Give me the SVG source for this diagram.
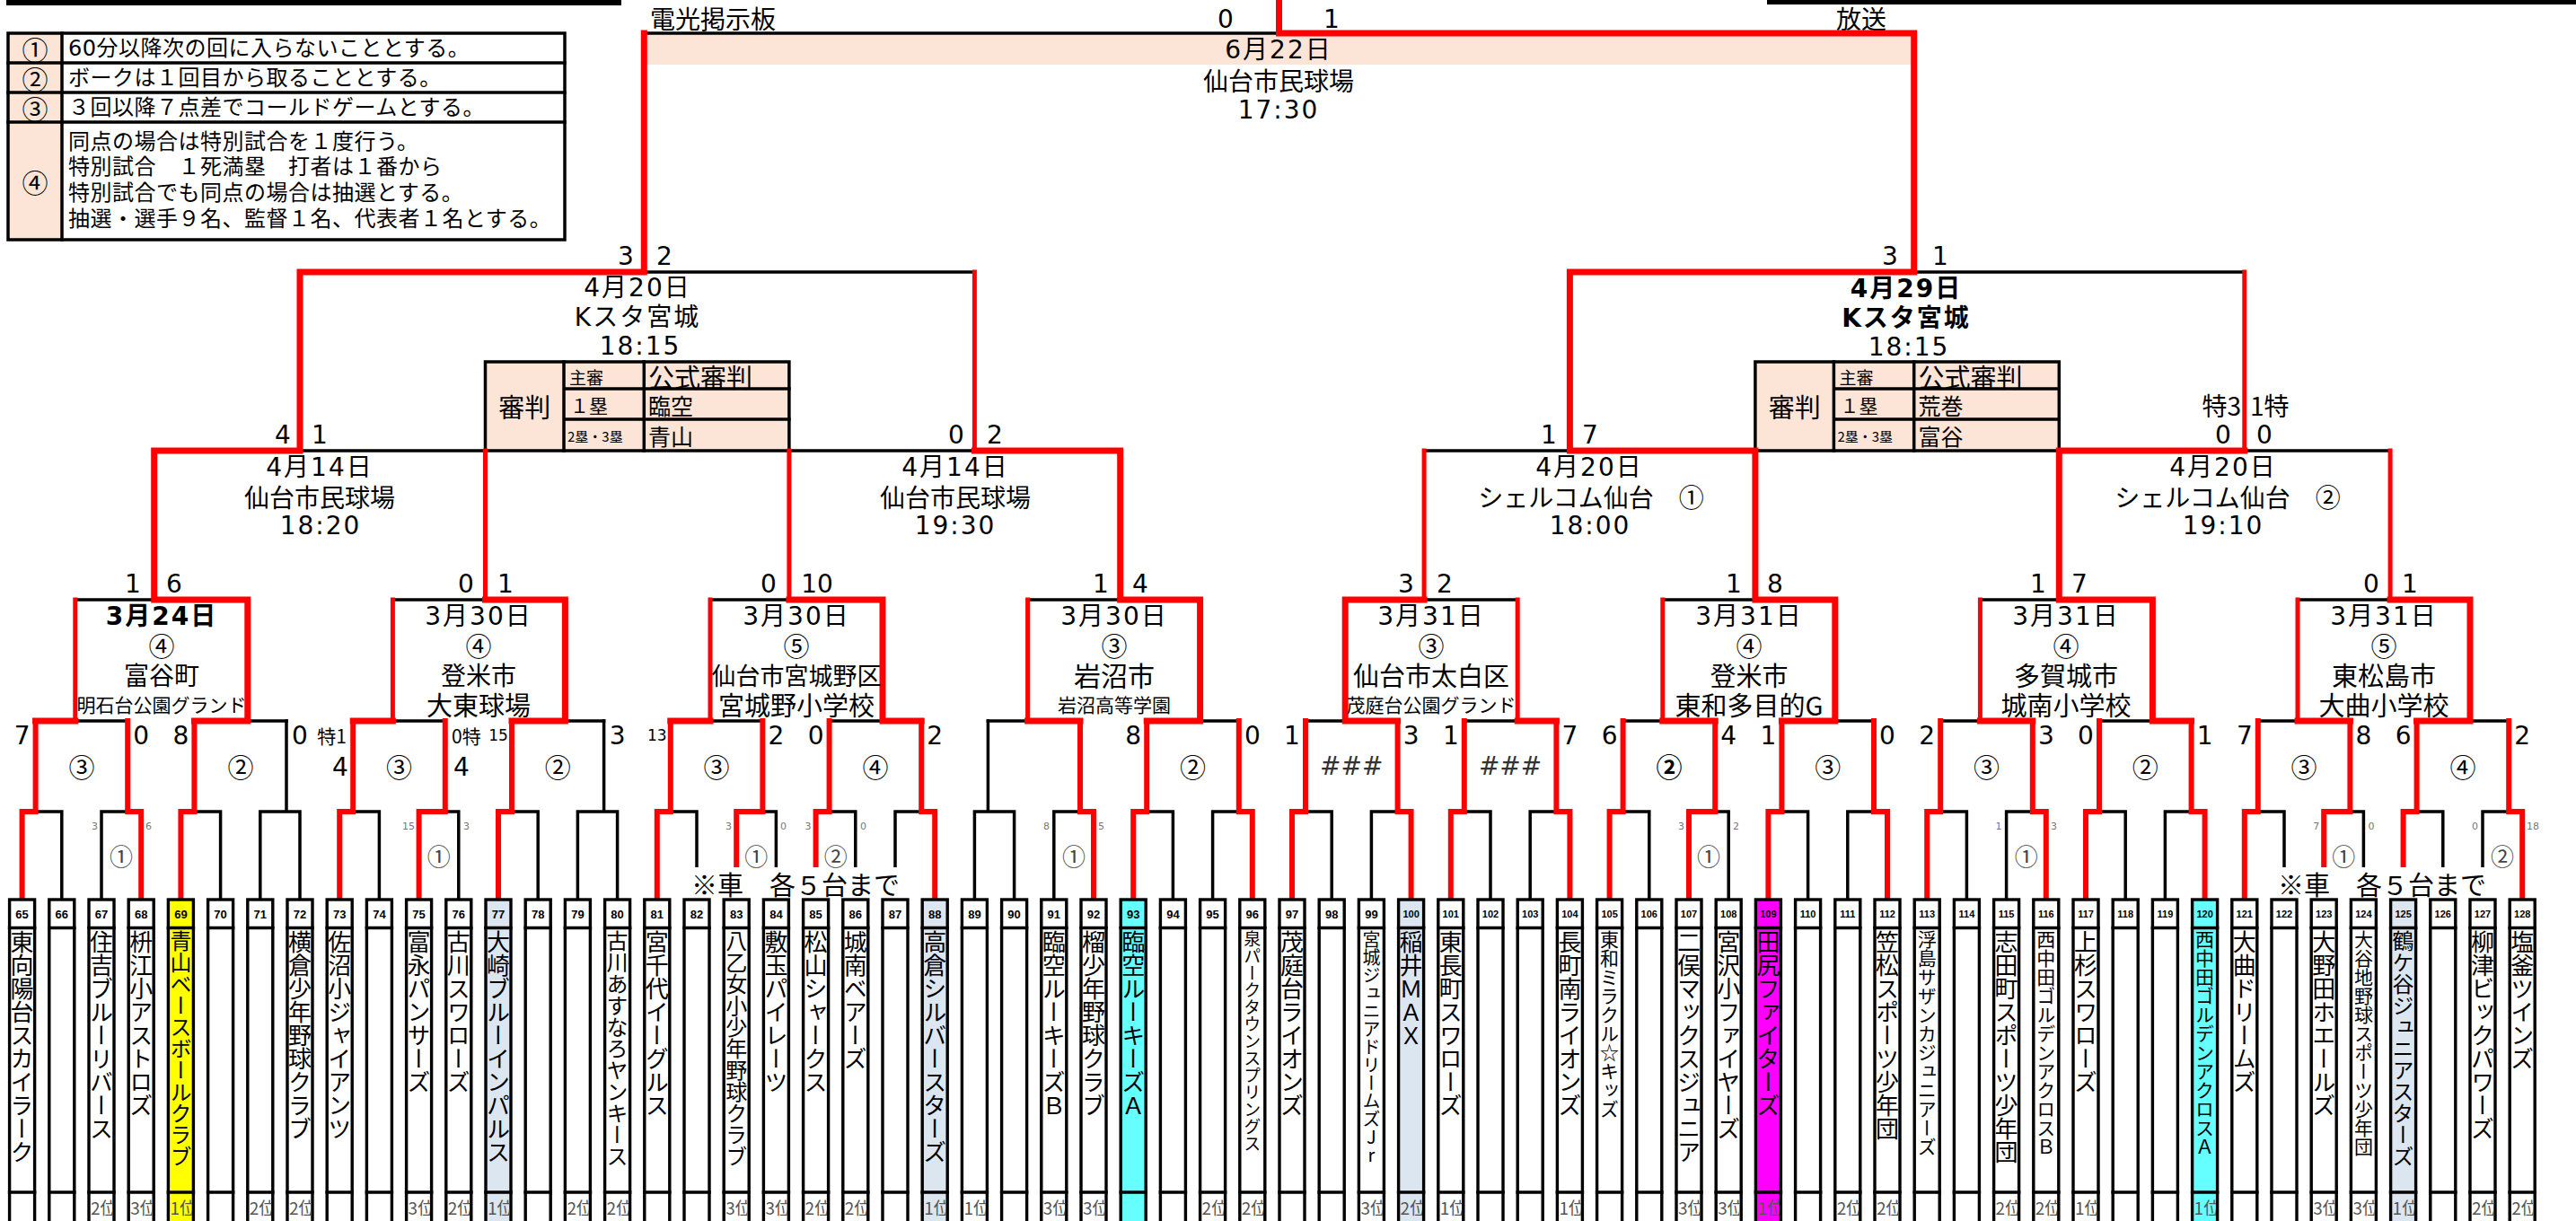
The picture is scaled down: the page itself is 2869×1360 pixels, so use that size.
<svg xmlns="http://www.w3.org/2000/svg" width="2869" height="1360" viewBox="0 0 2869 1360">
<defs>
<style>
text{font-family:"Noto Sans CJK JP",sans-serif;dominant-baseline:central;fill:#000}
.j{font-size:28px;text-anchor:middle}
.m{font-family:"DejaVu Sans","Noto Sans CJK JP",sans-serif;font-size:28px;text-anchor:middle;letter-spacing:2px}
.sc{font-family:"DejaVu Sans",sans-serif;font-size:28px;text-anchor:middle}
.s2{font-family:"DejaVu Sans",sans-serif;font-size:17px;text-anchor:middle}
.ss{font-family:"DejaVu Sans",sans-serif;font-size:11px;fill:#777}
.ci{font-size:29px;text-anchor:middle}
.c1{font-size:26px;text-anchor:middle;fill:#444}
.lg{font-family:"DejaVu Sans","Noto Sans CJK JP",sans-serif;font-size:24px;letter-spacing:0.5px}
.hs{font-family:"DejaVu Sans",sans-serif;font-size:28px;fill:#333;text-anchor:middle}
.no{font-family:"Liberation Sans",sans-serif;font-weight:700;font-size:13px;text-anchor:middle}
.n3{font-size:11px}
.nm{writing-mode:vertical-rl;text-orientation:upright;font-size:26px}
.n24{font-size:24px}.n21{font-size:21px}.n20{font-size:20px}.n19{font-size:19px}
.rk{font-size:19px;fill:#555}
.bx{fill:#fff;stroke:#000;stroke-width:3.4}
.k{fill:none;stroke:#000;stroke-width:3.5;stroke-linecap:square}
.r{fill:none;stroke:#f00;stroke-width:7;stroke-linecap:square}
.rt{fill:none;stroke:#f00;stroke-width:5;stroke-linecap:square}
.r6{fill:none;stroke:#f00;stroke-width:6;stroke-linecap:square}
.pe{fill:#fce4d6}
.b{font-weight:700}
.f29{font-size:29px}.f27{font-size:27px}.f30{font-size:30px}.f21{font-size:21px}.f19{font-size:19px}.f15{font-size:15px}.f25{font-size:25px}
.st{text-anchor:start}.en{text-anchor:end}
</style>
<clipPath id="rkc">
<rect x="100.7" y="1330" width="24.6" height="30"/><rect x="144.9" y="1330" width="24.6" height="30"/><rect x="189.1" y="1330" width="24.6" height="30"/><rect x="277.5" y="1330" width="24.6" height="30"/><rect x="321.7" y="1330" width="24.6" height="30"/><rect x="454.3" y="1330" width="24.6" height="30"/><rect x="498.5" y="1330" width="24.6" height="30"/><rect x="542.7" y="1330" width="24.6" height="30"/><rect x="631.1" y="1330" width="24.6" height="30"/><rect x="675.3" y="1330" width="24.6" height="30"/><rect x="807.9" y="1330" width="24.6" height="30"/><rect x="852.1" y="1330" width="24.6" height="30"/><rect x="896.3" y="1330" width="24.6" height="30"/><rect x="940.5" y="1330" width="24.6" height="30"/><rect x="1028.9" y="1330" width="24.6" height="30"/><rect x="1073.1" y="1330" width="24.6" height="30"/><rect x="1161.5" y="1330" width="24.6" height="30"/><rect x="1205.7" y="1330" width="24.6" height="30"/><rect x="1338.3" y="1330" width="24.6" height="30"/><rect x="1382.5" y="1330" width="24.6" height="30"/><rect x="1515.1" y="1330" width="24.6" height="30"/><rect x="1559.3" y="1330" width="24.6" height="30"/><rect x="1603.5" y="1330" width="24.6" height="30"/><rect x="1736.1" y="1330" width="24.6" height="30"/><rect x="1868.7" y="1330" width="24.6" height="30"/><rect x="1912.9" y="1330" width="24.6" height="30"/><rect x="1957.1" y="1330" width="24.6" height="30"/><rect x="2045.5" y="1330" width="24.6" height="30"/><rect x="2089.7" y="1330" width="24.6" height="30"/><rect x="2222.3" y="1330" width="24.6" height="30"/><rect x="2266.5" y="1330" width="24.6" height="30"/><rect x="2310.7" y="1330" width="24.6" height="30"/><rect x="2443.3" y="1330" width="24.6" height="30"/><rect x="2575.9" y="1330" width="24.6" height="30"/><rect x="2620.1" y="1330" width="24.6" height="30"/><rect x="2664.3" y="1330" width="24.6" height="30"/><rect x="2752.7" y="1330" width="24.6" height="30"/><rect x="2796.9" y="1330" width="24.6" height="30"/>
</clipPath>
<clipPath id="cv1"><rect x="86.5" y="768" width="186.5" height="34"/></clipPath>
<clipPath id="cv5"><rect x="1501" y="768" width="186.5" height="34"/></clipPath>
</defs>
<rect width="2869" height="1360" fill="#fff"/>

<g id="header">
<rect x="7" y="0" width="685" height="6" fill="#000"/>
<rect x="1968" y="0" width="901" height="5" fill="#000"/>
<text class="j st" x="724" y="20">電光掲示板</text>
<text class="j" x="2073" y="20">放送</text>
</g>

<g id="legend">
<rect class="pe" x="9" y="37" width="60" height="230"/>
<rect x="9" y="37" width="620" height="230" fill="none" stroke="#000" stroke-width="3.5"/>
<path class="k" d="M69 37V267M9 70H629M9 103H629M9 136H629"/>
<text class="ci" x="39" y="54">①</text>
<text class="ci" x="39" y="87">②</text>
<text class="ci" x="39" y="120">③</text>
<text class="ci" x="39" y="202">④</text>
<text class="lg" x="76" y="54">60分以降次の回に入らないこととする。</text>
<text class="lg" x="76" y="87">ボークは１回目から取ることとする。</text>
<text class="lg" x="76" y="120">３回以降７点差でコールドゲームとする。</text>
<text class="lg" x="76" y="158">同点の場合は特別試合を１度行う。</text>
<text class="lg" x="76" y="186">特別試合　１死満塁　打者は１番から</text>
<text class="lg" x="76" y="215">特別試合でも同点の場合は抽選とする。</text>
<text class="lg" x="76" y="244">抽選・選手９名、監督１名、代表者１名とする。</text>
</g>

<rect id="final-band" class="pe" x="720" y="39" width="1408" height="33"/>

<g id="ref1">
<rect class="pe" x="540.5" y="403" width="338.4" height="99" stroke="#000" stroke-width="3.5"/>
<path class="k" d="M628 403V502M717.3 403V502M628 433H878.9M628 467H878.9"/>
<text class="j f29" x="584.3" y="452">審判</text>
<text class="j f19 st" x="634" y="419">主審</text>
<text class="j f29 st" x="722" y="419">公式審判</text>
<text class="j f21 st" x="635" y="451">１塁</text>
<text class="j f25 st" x="722" y="451">臨空</text>
<text class="j f15 st" x="632" y="485">2塁・3塁</text>
<text class="j f25 st" x="722" y="485">青山</text>
</g>
<g id="ref2">
<rect class="pe" x="1954.9" y="403" width="338.4" height="99" stroke="#000" stroke-width="3.5"/>
<path class="k" d="M2042.4 403V502M2131.7 403V502M2042.4 433H2293.3M2042.4 467H2293.3"/>
<text class="j f29" x="1998.7" y="452">審判</text>
<text class="j f19 st" x="2048.4" y="419">主審</text>
<text class="j f29 st" x="2136.4" y="419">公式審判</text>
<text class="j f21 st" x="2049.4" y="451">１塁</text>
<text class="j f25 st" x="2136.4" y="451">荒巻</text>
<text class="j f15 st" x="2046.4" y="485">2塁・3塁</text>
<text class="j f25 st" x="2136.4" y="485">富谷</text>
</g>

<g id="connectors">
<path class="k" d="M717.3 37H1424.5M717.3 303H1085.4M2131.7 303H2499.8M334 502H540.5M878.9 502H1085.4M1586.1 502H1748.4M2499.8 502H2662.1M83.8 668H171.7M437.4 668H540.5M791 668H878.9M1144.6 668H1247.7M1586.1 668H1690.2M1851.8 668H1954.9M2205.4 668H2293.3M2559 668H2662.1"/>
<path class="k" d="M83.8 803H142.2M275.8 803H319M437.4 803H495.8M629.4 803H672.6M791 803H849.4M923.6 803H983M1100.4 803H1144.6M1336.6 803H1379.8M1454 803H1498.2M1630.8 803H1690.2M1807.6 803H1851.8M2043.8 803H2087M2161.2 803H2205.4M2338 803H2397.4M2514.8 803H2559M2751 803H2794.2"/>
<path class="k" d="M39.6 904H68.8V1002M113 1002V904H142.2M216.4 904H245.6V1002M289.8 1002V904H334V1002M319 904V803M393.2 904H422.4V1002M495.8 904H510.8V1002M570 904H599.2V1002M643.4 1002V904H687.6V1002M672.6 904V803M746.8 904H776V1002M849.4 904H864.4V1002M923.6 904H952.8V1002M997 1002V904H1026.2M1085.4 1002V904H1129.6V1002M1100.4 904V803M1173.8 1002V904H1203M1277.2 904H1306.4V1002M1350.6 1002V904H1379.8M1454 904H1483.2V1002M1527.4 1002V904H1556.6M1630.8 904H1660V1002M1704.2 1002V904H1733.4M1807.6 904H1836.8V1002M1910.2 904H1925.2V1002M1984.4 904H2013.6V1002M2057.8 1002V904H2087M2161.2 904H2190.4V1002M2234.6 1002V904H2263.8M2338 904H2367.2V1002M2411.4 1002V904H2440.6M2514.8 904H2544V1002M2617.4 904H2632.4V1002M2691.6 904H2720.8V1002M2765 1002V904H2794.2"/>
<path class="r6" d="M24.6 1002V904H39.6V803M157.2 1002V904H142.2V803M201.4 1002V904H216.4V803M378.2 1002V904H393.2V803M466.6 1002V904H495.8V803M555 1002V904H570V803M731.8 1002V904H746.8V803M820.2 1002V904H849.4V803M908.6 1002V904H923.6V803M1041.2 1002V904H1026.2V803M1218 1002V904H1203V803M1262.2 1002V904H1277.2V803M1394.8 1002V904H1379.8V803M1439 1002V904H1454V803M1571.6 1002V904H1556.6V803M1615.8 1002V904H1630.8V803M1748.4 1002V904H1733.4V803M1792.6 1002V904H1807.6V803M1881 1002V904H1910.2V803M1969.4 1002V904H1984.4V803M2102 1002V904H2087V803M2146.2 1002V904H2161.2V803M2278.8 1002V904H2263.8V803M2323 1002V904H2338V803M2455.6 1002V904H2440.6V803M2499.8 1002V904H2514.8V803M2588.2 1002V904H2617.4V803M2676.6 1002V904H2691.6V803M2809.2 1002V904H2794.2V803"/>
<path class="rt" d="M540.5 502V668M878.9 502V668M1586.1 502V668M2662.1 502V668M1085.4 303V502M2499.8 303V502M83.8 668V803M437.4 668V803M791 668V803M1144.6 668V803M1690.2 668V803M1851.8 668V803M2205.4 668V803M2559 668V803"/>
<path class="r" d="M1424.5 0V37H2131.7V303H1748.4V502H1954.9V668H2043.8V803H1984.4M717.3 37V303H334V502H171.7V668H275.8V803H216.4M1085.4 502H1247.7V668H1336.6V803H1277.2M2499.8 502H2293.3V668H2397.4V803H2440.6M540.5 668H629.4V803H570M878.9 668H983V803H1026.2M1586.1 668H1498.2V803H1556.6M2662.1 668H2751V803H2691.6M39.6 803H83.8M393.2 803H437.4M746.8 803H791M1144.6 803H1203M1690.2 803H1733.4M1851.8 803H1910.2M2205.4 803H2263.8M2559 803H2617.4"/>
</g>

<rect x="762" y="966" width="249" height="35" fill="#fff"/>
<rect x="2530" y="966" width="249" height="35" fill="#fff"/>
<text class="j f29 st" x="770" y="984">※車　各５台まで</text>
<text class="j f29 st" x="2537" y="984">※車　各５台まで</text>

<g id="final">
<text class="sc" x="1365" y="21">0</text><text class="sc" x="1483" y="21">1</text>
<text class="m" x="1424" y="55">6月22日</text>
<text class="j" x="1424" y="89">仙台市民球場</text>
<text class="m" x="1424" y="122">17:30</text>
</g>
<g id="sf1">
<text class="sc" x="697" y="285">3</text><text class="sc" x="740" y="285">2</text>
<text class="m" x="710" y="320">4月20日</text>
<text class="m" x="710" y="353">Kスタ宮城</text>
<text class="m" x="713" y="385">18:15</text>
</g>
<g id="sf2">
<text class="sc" x="2105" y="285">3</text><text class="sc" x="2161" y="285">1</text>
<text class="m b" x="2123" y="321">4月29日</text>
<text class="m b" x="2123" y="354">Kスタ宮城</text>
<text class="m" x="2126" y="386">18:15</text>
</g>
<g id="qf1">
<text class="sc" x="315" y="484">4</text><text class="sc" x="356" y="484">1</text>
<text class="m" x="356" y="520">4月14日</text>
<text class="j" x="356" y="553">仙台市民球場</text>
<text class="m" x="357" y="585">18:20</text>
</g>
<g id="qf2">
<text class="sc" x="1065" y="484">0</text><text class="sc" x="1108" y="484">2</text>
<text class="m" x="1064" y="520">4月14日</text>
<text class="j" x="1064" y="553">仙台市民球場</text>
<text class="m" x="1064" y="585">19:30</text>
</g>
<g id="qf3">
<text class="sc" x="1725" y="484">1</text><text class="sc" x="1771" y="484">7</text>
<text class="m" x="1770" y="520">4月20日</text>
<text class="j" x="1772" y="553">シェルコム仙台　①</text>
<text class="m" x="1771" y="585">18:00</text>
</g>
<g id="qf4">
<text class="j en" x="2496" y="451">特3</text><text class="j st" x="2506" y="451">1特</text>
<text class="sc" x="2476" y="484">0</text><text class="sc" x="2522" y="484">0</text>
<text class="m" x="2476" y="520">4月20日</text>
<text class="j" x="2481" y="553">シェルコム仙台　②</text>
<text class="m" x="2476" y="585">19:10</text>
</g>

<g id="r16-1">
<text class="sc" x="148" y="650">1</text><text class="sc" x="194" y="650">6</text>
<text class="m b" x="180" y="686">3月24日</text>
<text class="ci" x="180" y="718">④</text>
<text class="j" x="180" y="751">富谷町</text>
<text class="j f21" x="180" y="784" clip-path="url(#cv1)">明石台公園グランド</text>
</g>
<g id="r16-2">
<text class="sc" x="519" y="650">0</text><text class="sc" x="563" y="650">1</text>
<text class="m" x="533" y="686">3月30日</text>
<text class="ci" x="533" y="718">④</text>
<text class="j" x="533" y="751">登米市</text>
<text class="j f29" x="533" y="784">大東球場</text>
</g>
<g id="r16-3">
<text class="sc" x="856" y="650">0</text><text class="sc" x="910" y="650">10</text>
<text class="m" x="887" y="686">3月30日</text>
<text class="ci" x="887" y="718">⑤</text>
<text class="j f27" x="887" y="751">仙台市宮城野区</text>
<text class="j f29" x="887" y="784">宮城野小学校</text>
</g>
<g id="r16-4">
<text class="sc" x="1226" y="650">1</text><text class="sc" x="1270" y="650">4</text>
<text class="m" x="1241" y="686">3月30日</text>
<text class="ci" x="1241" y="718">③</text>
<text class="j f30" x="1241" y="751">岩沼市</text>
<text class="j f21" x="1241" y="784">岩沼高等学園</text>
</g>
<g id="r16-5">
<text class="sc" x="1566" y="650">3</text><text class="sc" x="1609" y="650">2</text>
<text class="m" x="1594" y="686">3月31日</text>
<text class="ci" x="1594" y="718">③</text>
<text class="j f29" x="1594" y="751">仙台市太白区</text>
<text class="j f21" x="1594" y="784" clip-path="url(#cv5)">茂庭台公園グランド</text>
</g>
<g id="r16-6">
<text class="sc" x="1931" y="650">1</text><text class="sc" x="1977" y="650">8</text>
<text class="m" x="1948" y="686">3月31日</text>
<text class="ci" x="1948" y="718">④</text>
<text class="j f29" x="1948" y="751">登米市</text>
<text class="j f29" x="1948" y="784">東和多目的G</text>
</g>
<g id="r16-7">
<text class="sc" x="2270" y="650">1</text><text class="sc" x="2316" y="650">7</text>
<text class="m" x="2301" y="686">3月31日</text>
<text class="ci" x="2301" y="718">④</text>
<text class="j f29" x="2301" y="751">多賀城市</text>
<text class="j f29" x="2301" y="784">城南小学校</text>
</g>
<g id="r16-8">
<text class="sc" x="2641" y="650">0</text><text class="sc" x="2684" y="650">1</text>
<text class="m" x="2655" y="686">3月31日</text>
<text class="ci" x="2655" y="718">⑤</text>
<text class="j f29" x="2655" y="751">東松島市</text>
<text class="j f29" x="2655" y="784">大曲小学校</text>
</g>

<g id="r32">
<text class="sc" x="24.6" y="819">7</text><text class="sc" x="157.2" y="819">0</text><text class="ci" x="91" y="853">③</text>
<text class="sc" x="201.4" y="819">8</text><text class="sc" x="334" y="819">0</text><text class="ci" x="268" y="853">②</text>
<text class="j f21 en" x="386" y="819">特1</text><text class="sc" x="379" y="854">4</text><text class="j f21 st" x="503" y="819">0特</text><text class="sc" x="514" y="854">4</text><text class="ci" x="444.5" y="853">③</text>
<text class="s2" x="555" y="819">15</text><text class="sc" x="687.6" y="819">3</text><text class="ci" x="621.3" y="853">②</text>
<text class="s2" x="731.8" y="819">13</text><text class="sc" x="864.4" y="819">2</text><text class="ci" x="798.1" y="853">③</text>
<text class="sc" x="908.6" y="819">0</text><text class="sc" x="1041.2" y="819">2</text><text class="ci" x="974.9" y="853">④</text>
<text class="sc" x="1262.2" y="819">8</text><text class="sc" x="1394.8" y="819">0</text><text class="ci" x="1328.5" y="853">②</text>
<text class="sc" x="1439" y="819">1</text><text class="sc" x="1571.6" y="819">3</text><text class="hs" x="1505.3" y="853">###</text>
<text class="sc" x="1615.8" y="819">1</text><text class="sc" x="1748.4" y="819">7</text><text class="hs" x="1682.1" y="853">###</text>
<text class="sc" x="1792.6" y="819">6</text><text class="sc" x="1925.2" y="819">4</text><text class="ci b" x="1858.9" y="853">②</text>
<text class="sc" x="1969.4" y="819">1</text><text class="sc" x="2102" y="819">0</text><text class="ci" x="2035.7" y="853">③</text>
<text class="sc" x="2146.2" y="819">2</text><text class="sc" x="2278.8" y="819">3</text><text class="ci" x="2212.5" y="853">③</text>
<text class="sc" x="2323" y="819">0</text><text class="sc" x="2455.6" y="819">1</text><text class="ci" x="2389.3" y="853">②</text>
<text class="sc" x="2499.8" y="819">7</text><text class="sc" x="2632.4" y="819">8</text><text class="ci" x="2566.1" y="853">③</text>
<text class="sc" x="2676.6" y="819">6</text><text class="sc" x="2809.2" y="819">2</text><text class="ci" x="2742.9" y="853">④</text>
</g>

<g id="r64">
<text class="ss en" x="109" y="920">3</text><text class="ss" x="162" y="920">6</text><text class="c1" x="135.1" y="952">①</text>
<text class="ss en" x="462" y="920">15</text><text class="ss" x="516" y="920">3</text><text class="c1" x="488.7" y="952">①</text>
<text class="ss en" x="815" y="920">3</text><text class="ss" x="869" y="920">0</text><text class="c1" x="842.3" y="952">①</text>
<text class="ss en" x="903.6" y="920">3</text><text class="ss" x="958" y="920">0</text><text class="c1" x="930.7" y="952">②</text>
<text class="ss en" x="1169" y="920">8</text><text class="ss" x="1223" y="920">5</text><text class="c1" x="1195.9" y="952">①</text>
<text class="ss en" x="1876" y="920">3</text><text class="ss" x="1930" y="920">2</text><text class="c1" x="1903.1" y="952">①</text>
<text class="ss en" x="2229.6" y="920">1</text><text class="ss" x="2284" y="920">3</text><text class="c1" x="2256.7" y="952">①</text>
<text class="ss en" x="2583.2" y="920">7</text><text class="ss" x="2637.4" y="920">0</text><text class="c1" x="2610.3" y="952">①</text>
<text class="ss en" x="2760" y="920">0</text><text class="ss" x="2814" y="920">18</text><text class="c1" x="2787.1" y="952">②</text>
</g>

<g id="teams">
<g id="t65"><rect class="bx" x="10.6" y="1002" width="28" height="370"/><path class="k" d="M10.6 1033.5h28M10.6 1328h28"/><text class="no" x="24.6" y="1018">65</text><text class="nm" x="24.6" y="1036">東向陽台スカイラーク</text></g>
<g id="t66"><rect class="bx" x="54.8" y="1002" width="28" height="370"/><path class="k" d="M54.8 1033.5h28M54.8 1328h28"/><text class="no" x="68.8" y="1018">66</text></g>
<g id="t67"><rect class="bx" x="99" y="1002" width="28" height="370"/><path class="k" d="M99 1033.5h28M99 1328h28"/><text class="no" x="113" y="1018">67</text><text class="nm" x="113" y="1036">住吉ブルーリバース</text><text class="rk" x="101" y="1344" clip-path="url(#rkc)">2位</text></g>
<g id="t68"><rect class="bx" x="143.2" y="1002" width="28" height="370"/><path class="k" d="M143.2 1033.5h28M143.2 1328h28"/><text class="no" x="157.2" y="1018">68</text><text class="nm" x="157.2" y="1036">枡江小アストロズ</text><text class="rk" x="145.2" y="1344" clip-path="url(#rkc)">3位</text></g>
<g id="t69"><rect class="bx" style="fill:#ffff00" x="187.4" y="1002" width="28" height="370"/><path class="k" d="M187.4 1033.5h28M187.4 1328h28"/><text class="no" x="201.4" y="1018">69</text><text class="nm n24" x="201.4" y="1036">青山ベースボールクラブ</text><text class="rk" x="189.4" y="1344" clip-path="url(#rkc)">1位</text></g>
<g id="t70"><rect class="bx" x="231.6" y="1002" width="28" height="370"/><path class="k" d="M231.6 1033.5h28M231.6 1328h28"/><text class="no" x="245.6" y="1018">70</text></g>
<g id="t71"><rect class="bx" x="275.8" y="1002" width="28" height="370"/><path class="k" d="M275.8 1033.5h28M275.8 1328h28"/><text class="no" x="289.8" y="1018">71</text><text class="rk" x="277.8" y="1344" clip-path="url(#rkc)">2位</text></g>
<g id="t72"><rect class="bx" x="320" y="1002" width="28" height="370"/><path class="k" d="M320 1033.5h28M320 1328h28"/><text class="no" x="334" y="1018">72</text><text class="nm" x="334" y="1036">横倉少年野球クラブ</text><text class="rk" x="322" y="1344" clip-path="url(#rkc)">2位</text></g>
<g id="t73"><rect class="bx" x="364.2" y="1002" width="28" height="370"/><path class="k" d="M364.2 1033.5h28M364.2 1328h28"/><text class="no" x="378.2" y="1018">73</text><text class="nm" x="378.2" y="1036">佐沼小ジャイアンツ</text></g>
<g id="t74"><rect class="bx" x="408.4" y="1002" width="28" height="370"/><path class="k" d="M408.4 1033.5h28M408.4 1328h28"/><text class="no" x="422.4" y="1018">74</text></g>
<g id="t75"><rect class="bx" x="452.6" y="1002" width="28" height="370"/><path class="k" d="M452.6 1033.5h28M452.6 1328h28"/><text class="no" x="466.6" y="1018">75</text><text class="nm" x="466.6" y="1036">富永パンサーズ</text><text class="rk" x="454.6" y="1344" clip-path="url(#rkc)">3位</text></g>
<g id="t76"><rect class="bx" x="496.8" y="1002" width="28" height="370"/><path class="k" d="M496.8 1033.5h28M496.8 1328h28"/><text class="no" x="510.8" y="1018">76</text><text class="nm" x="510.8" y="1036">古川スワローズ</text><text class="rk" x="498.8" y="1344" clip-path="url(#rkc)">2位</text></g>
<g id="t77"><rect class="bx" style="fill:#dce6f1" x="541" y="1002" width="28" height="370"/><path class="k" d="M541 1033.5h28M541 1328h28"/><text class="no" x="555" y="1018">77</text><text class="nm" x="555" y="1036">大崎ブルーインパルス</text><text class="rk" x="543" y="1344" clip-path="url(#rkc)">1位</text></g>
<g id="t78"><rect class="bx" x="585.2" y="1002" width="28" height="370"/><path class="k" d="M585.2 1033.5h28M585.2 1328h28"/><text class="no" x="599.2" y="1018">78</text></g>
<g id="t79"><rect class="bx" x="629.4" y="1002" width="28" height="370"/><path class="k" d="M629.4 1033.5h28M629.4 1328h28"/><text class="no" x="643.4" y="1018">79</text><text class="rk" x="631.4" y="1344" clip-path="url(#rkc)">2位</text></g>
<g id="t80"><rect class="bx" x="673.6" y="1002" width="28" height="370"/><path class="k" d="M673.6 1033.5h28M673.6 1328h28"/><text class="no" x="687.6" y="1018">80</text><text class="nm n24" x="687.6" y="1036">古川あすなろヤンキース</text><text class="rk" x="675.6" y="1344" clip-path="url(#rkc)">2位</text></g>
<g id="t81"><rect class="bx" x="717.8" y="1002" width="28" height="370"/><path class="k" d="M717.8 1033.5h28M717.8 1328h28"/><text class="no" x="731.8" y="1018">81</text><text class="nm" x="731.8" y="1036">宮千代イーグルス</text></g>
<g id="t82"><rect class="bx" x="762" y="1002" width="28" height="370"/><path class="k" d="M762 1033.5h28M762 1328h28"/><text class="no" x="776" y="1018">82</text></g>
<g id="t83"><rect class="bx" x="806.2" y="1002" width="28" height="370"/><path class="k" d="M806.2 1033.5h28M806.2 1328h28"/><text class="no" x="820.2" y="1018">83</text><text class="nm n24" x="820.2" y="1036">八乙女小少年野球クラブ</text><text class="rk" x="808.2" y="1344" clip-path="url(#rkc)">3位</text></g>
<g id="t84"><rect class="bx" x="850.4" y="1002" width="28" height="370"/><path class="k" d="M850.4 1033.5h28M850.4 1328h28"/><text class="no" x="864.4" y="1018">84</text><text class="nm" x="864.4" y="1036">敷玉パイレーツ</text><text class="rk" x="852.4" y="1344" clip-path="url(#rkc)">3位</text></g>
<g id="t85"><rect class="bx" x="894.6" y="1002" width="28" height="370"/><path class="k" d="M894.6 1033.5h28M894.6 1328h28"/><text class="no" x="908.6" y="1018">85</text><text class="nm" x="908.6" y="1036">松山シャークス</text><text class="rk" x="896.6" y="1344" clip-path="url(#rkc)">2位</text></g>
<g id="t86"><rect class="bx" x="938.8" y="1002" width="28" height="370"/><path class="k" d="M938.8 1033.5h28M938.8 1328h28"/><text class="no" x="952.8" y="1018">86</text><text class="nm" x="952.8" y="1036">城南ベアーズ</text><text class="rk" x="940.8" y="1344" clip-path="url(#rkc)">2位</text></g>
<g id="t87"><rect class="bx" x="983" y="1002" width="28" height="370"/><path class="k" d="M983 1033.5h28M983 1328h28"/><text class="no" x="997" y="1018">87</text></g>
<g id="t88"><rect class="bx" style="fill:#dce6f1" x="1027.2" y="1002" width="28" height="370"/><path class="k" d="M1027.2 1033.5h28M1027.2 1328h28"/><text class="no" x="1041.2" y="1018">88</text><text class="nm" x="1041.2" y="1036">高倉シルバースターズ</text><text class="rk" x="1029.2" y="1344" clip-path="url(#rkc)">1位</text></g>
<g id="t89"><rect class="bx" x="1071.4" y="1002" width="28" height="370"/><path class="k" d="M1071.4 1033.5h28M1071.4 1328h28"/><text class="no" x="1085.4" y="1018">89</text><text class="rk" x="1073.4" y="1344" clip-path="url(#rkc)">1位</text></g>
<g id="t90"><rect class="bx" x="1115.6" y="1002" width="28" height="370"/><path class="k" d="M1115.6 1033.5h28M1115.6 1328h28"/><text class="no" x="1129.6" y="1018">90</text></g>
<g id="t91"><rect class="bx" x="1159.8" y="1002" width="28" height="370"/><path class="k" d="M1159.8 1033.5h28M1159.8 1328h28"/><text class="no" x="1173.8" y="1018">91</text><text class="nm" x="1173.8" y="1036">臨空ルーキーズＢ</text><text class="rk" x="1161.8" y="1344" clip-path="url(#rkc)">3位</text></g>
<g id="t92"><rect class="bx" x="1204" y="1002" width="28" height="370"/><path class="k" d="M1204 1033.5h28M1204 1328h28"/><text class="no" x="1218" y="1018">92</text><text class="nm" x="1218" y="1036">榴少年野球クラブ</text><text class="rk" x="1206" y="1344" clip-path="url(#rkc)">3位</text></g>
<g id="t93"><rect class="bx" style="fill:#66ffff" x="1248.2" y="1002" width="28" height="370"/><path class="k" d="M1248.2 1033.5h28M1248.2 1328h28"/><text class="no" x="1262.2" y="1018">93</text><text class="nm" x="1262.2" y="1036">臨空ルーキーズＡ</text></g>
<g id="t94"><rect class="bx" x="1292.4" y="1002" width="28" height="370"/><path class="k" d="M1292.4 1033.5h28M1292.4 1328h28"/><text class="no" x="1306.4" y="1018">94</text></g>
<g id="t95"><rect class="bx" x="1336.6" y="1002" width="28" height="370"/><path class="k" d="M1336.6 1033.5h28M1336.6 1328h28"/><text class="no" x="1350.6" y="1018">95</text><text class="rk" x="1338.6" y="1344" clip-path="url(#rkc)">2位</text></g>
<g id="t96"><rect class="bx" x="1380.8" y="1002" width="28" height="370"/><path class="k" d="M1380.8 1033.5h28M1380.8 1328h28"/><text class="no" x="1394.8" y="1018">96</text><text class="nm n19" x="1394.8" y="1036">泉パークタウンスプリングス</text><text class="rk" x="1382.8" y="1344" clip-path="url(#rkc)">2位</text></g>
<g id="t97"><rect class="bx" x="1425" y="1002" width="28" height="370"/><path class="k" d="M1425 1033.5h28M1425 1328h28"/><text class="no" x="1439" y="1018">97</text><text class="nm" x="1439" y="1036">茂庭台ライオンズ</text></g>
<g id="t98"><rect class="bx" x="1469.2" y="1002" width="28" height="370"/><path class="k" d="M1469.2 1033.5h28M1469.2 1328h28"/><text class="no" x="1483.2" y="1018">98</text></g>
<g id="t99"><rect class="bx" x="1513.4" y="1002" width="28" height="370"/><path class="k" d="M1513.4 1033.5h28M1513.4 1328h28"/><text class="no" x="1527.4" y="1018">99</text><text class="nm n20" x="1527.4" y="1036">宮城ジュニアドリームズJr</text><text class="rk" x="1515.4" y="1344" clip-path="url(#rkc)">3位</text></g>
<g id="t100"><rect class="bx" style="fill:#dce6f1" x="1557.6" y="1002" width="28" height="370"/><path class="k" d="M1557.6 1033.5h28M1557.6 1328h28"/><text class="no n3" x="1571.6" y="1018">100</text><text class="nm" x="1571.6" y="1036">稲井ＭＡＸ</text><text class="rk" x="1559.6" y="1344" clip-path="url(#rkc)">2位</text></g>
<g id="t101"><rect class="bx" x="1601.8" y="1002" width="28" height="370"/><path class="k" d="M1601.8 1033.5h28M1601.8 1328h28"/><text class="no n3" x="1615.8" y="1018">101</text><text class="nm" x="1615.8" y="1036">東長町スワローズ</text><text class="rk" x="1603.8" y="1344" clip-path="url(#rkc)">1位</text></g>
<g id="t102"><rect class="bx" x="1646" y="1002" width="28" height="370"/><path class="k" d="M1646 1033.5h28M1646 1328h28"/><text class="no n3" x="1660" y="1018">102</text></g>
<g id="t103"><rect class="bx" x="1690.2" y="1002" width="28" height="370"/><path class="k" d="M1690.2 1033.5h28M1690.2 1328h28"/><text class="no n3" x="1704.2" y="1018">103</text></g>
<g id="t104"><rect class="bx" x="1734.4" y="1002" width="28" height="370"/><path class="k" d="M1734.4 1033.5h28M1734.4 1328h28"/><text class="no n3" x="1748.4" y="1018">104</text><text class="nm" x="1748.4" y="1036">長町南ライオンズ</text><text class="rk" x="1736.4" y="1344" clip-path="url(#rkc)">1位</text></g>
<g id="t105"><rect class="bx" x="1778.6" y="1002" width="28" height="370"/><path class="k" d="M1778.6 1033.5h28M1778.6 1328h28"/><text class="no n3" x="1792.6" y="1018">105</text><text class="nm n21" x="1792.6" y="1036">東和ミラクル☆キッズ</text></g>
<g id="t106"><rect class="bx" x="1822.8" y="1002" width="28" height="370"/><path class="k" d="M1822.8 1033.5h28M1822.8 1328h28"/><text class="no n3" x="1836.8" y="1018">106</text></g>
<g id="t107"><rect class="bx" x="1867" y="1002" width="28" height="370"/><path class="k" d="M1867 1033.5h28M1867 1328h28"/><text class="no n3" x="1881" y="1018">107</text><text class="nm" x="1881" y="1036">二俣マックスジュニア</text><text class="rk" x="1869" y="1344" clip-path="url(#rkc)">3位</text></g>
<g id="t108"><rect class="bx" x="1911.2" y="1002" width="28" height="370"/><path class="k" d="M1911.2 1033.5h28M1911.2 1328h28"/><text class="no n3" x="1925.2" y="1018">108</text><text class="nm" x="1925.2" y="1036">宮沢小ファイヤーズ</text><text class="rk" x="1913.2" y="1344" clip-path="url(#rkc)">3位</text></g>
<g id="t109"><rect class="bx" style="fill:#ff00ff" x="1955.4" y="1002" width="28" height="370"/><path class="k" d="M1955.4 1033.5h28M1955.4 1328h28"/><text class="no n3" x="1969.4" y="1018">109</text><text class="nm" x="1969.4" y="1036">田尻ファイターズ</text><text class="rk" x="1957.4" y="1344" clip-path="url(#rkc)">1位</text></g>
<g id="t110"><rect class="bx" x="1999.6" y="1002" width="28" height="370"/><path class="k" d="M1999.6 1033.5h28M1999.6 1328h28"/><text class="no n3" x="2013.6" y="1018">110</text></g>
<g id="t111"><rect class="bx" x="2043.8" y="1002" width="28" height="370"/><path class="k" d="M2043.8 1033.5h28M2043.8 1328h28"/><text class="no n3" x="2057.8" y="1018">111</text><text class="rk" x="2045.8" y="1344" clip-path="url(#rkc)">2位</text></g>
<g id="t112"><rect class="bx" x="2088" y="1002" width="28" height="370"/><path class="k" d="M2088 1033.5h28M2088 1328h28"/><text class="no n3" x="2102" y="1018">112</text><text class="nm" x="2102" y="1036">笠松スポーツ少年団</text><text class="rk" x="2090" y="1344" clip-path="url(#rkc)">2位</text></g>
<g id="t113"><rect class="bx" x="2132.2" y="1002" width="28" height="370"/><path class="k" d="M2132.2 1033.5h28M2132.2 1328h28"/><text class="no n3" x="2146.2" y="1018">113</text><text class="nm n21" x="2146.2" y="1036">浮島サザンカジュニアーズ</text></g>
<g id="t114"><rect class="bx" x="2176.4" y="1002" width="28" height="370"/><path class="k" d="M2176.4 1033.5h28M2176.4 1328h28"/><text class="no n3" x="2190.4" y="1018">114</text></g>
<g id="t115"><rect class="bx" x="2220.6" y="1002" width="28" height="370"/><path class="k" d="M2220.6 1033.5h28M2220.6 1328h28"/><text class="no n3" x="2234.6" y="1018">115</text><text class="nm" x="2234.6" y="1036">志田町スポーツ少年団</text><text class="rk" x="2222.6" y="1344" clip-path="url(#rkc)">2位</text></g>
<g id="t116"><rect class="bx" x="2264.8" y="1002" width="28" height="370"/><path class="k" d="M2264.8 1033.5h28M2264.8 1328h28"/><text class="no n3" x="2278.8" y="1018">116</text><text class="nm n21" x="2278.8" y="1036">西中田ゴルデンアクロスＢ</text><text class="rk" x="2266.8" y="1344" clip-path="url(#rkc)">2位</text></g>
<g id="t117"><rect class="bx" x="2309" y="1002" width="28" height="370"/><path class="k" d="M2309 1033.5h28M2309 1328h28"/><text class="no n3" x="2323" y="1018">117</text><text class="nm" x="2323" y="1036">上杉スワローズ</text><text class="rk" x="2311" y="1344" clip-path="url(#rkc)">1位</text></g>
<g id="t118"><rect class="bx" x="2353.2" y="1002" width="28" height="370"/><path class="k" d="M2353.2 1033.5h28M2353.2 1328h28"/><text class="no n3" x="2367.2" y="1018">118</text></g>
<g id="t119"><rect class="bx" x="2397.4" y="1002" width="28" height="370"/><path class="k" d="M2397.4 1033.5h28M2397.4 1328h28"/><text class="no n3" x="2411.4" y="1018">119</text></g>
<g id="t120"><rect class="bx" style="fill:#66ffff" x="2441.6" y="1002" width="28" height="370"/><path class="k" d="M2441.6 1033.5h28M2441.6 1328h28"/><text class="no n3" x="2455.6" y="1018">120</text><text class="nm n21" x="2455.6" y="1036">西中田ゴルデンアクロスＡ</text><text class="rk" x="2443.6" y="1344" clip-path="url(#rkc)">1位</text></g>
<g id="t121"><rect class="bx" x="2485.8" y="1002" width="28" height="370"/><path class="k" d="M2485.8 1033.5h28M2485.8 1328h28"/><text class="no n3" x="2499.8" y="1018">121</text><text class="nm" x="2499.8" y="1036">大曲ドリームズ</text></g>
<g id="t122"><rect class="bx" x="2530" y="1002" width="28" height="370"/><path class="k" d="M2530 1033.5h28M2530 1328h28"/><text class="no n3" x="2544" y="1018">122</text></g>
<g id="t123"><rect class="bx" x="2574.2" y="1002" width="28" height="370"/><path class="k" d="M2574.2 1033.5h28M2574.2 1328h28"/><text class="no n3" x="2588.2" y="1018">123</text><text class="nm" x="2588.2" y="1036">大野田ホエールズ</text><text class="rk" x="2576.2" y="1344" clip-path="url(#rkc)">3位</text></g>
<g id="t124"><rect class="bx" x="2618.4" y="1002" width="28" height="370"/><path class="k" d="M2618.4 1033.5h28M2618.4 1328h28"/><text class="no n3" x="2632.4" y="1018">124</text><text class="nm n21" x="2632.4" y="1036">大谷地野球スポーツ少年団</text><text class="rk" x="2620.4" y="1344" clip-path="url(#rkc)">3位</text></g>
<g id="t125"><rect class="bx" style="fill:#dce6f1" x="2662.6" y="1002" width="28" height="370"/><path class="k" d="M2662.6 1033.5h28M2662.6 1328h28"/><text class="no n3" x="2676.6" y="1018">125</text><text class="nm n24" x="2676.6" y="1036">鶴ケ谷ジュニアスターズ</text><text class="rk" x="2664.6" y="1344" clip-path="url(#rkc)">1位</text></g>
<g id="t126"><rect class="bx" x="2706.8" y="1002" width="28" height="370"/><path class="k" d="M2706.8 1033.5h28M2706.8 1328h28"/><text class="no n3" x="2720.8" y="1018">126</text></g>
<g id="t127"><rect class="bx" x="2751" y="1002" width="28" height="370"/><path class="k" d="M2751 1033.5h28M2751 1328h28"/><text class="no n3" x="2765" y="1018">127</text><text class="nm" x="2765" y="1036">柳津ビックパワーズ</text><text class="rk" x="2753" y="1344" clip-path="url(#rkc)">2位</text></g>
<g id="t128"><rect class="bx" x="2795.2" y="1002" width="28" height="370"/><path class="k" d="M2795.2 1033.5h28M2795.2 1328h28"/><text class="no n3" x="2809.2" y="1018">128</text><text class="nm" x="2809.2" y="1036">塩釜ツインズ</text><text class="rk" x="2797.2" y="1344" clip-path="url(#rkc)">2位</text></g>
</g>
</svg>
